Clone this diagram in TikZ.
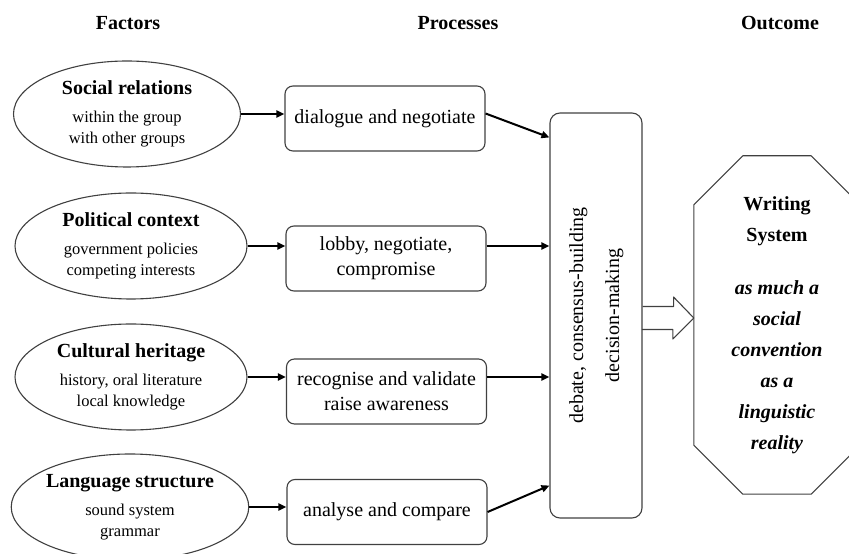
\documentclass[tikz,border=0pt]{standalone}
\usepackage{fontspec}
\setmainfont{Liberation Serif}
\usetikzlibrary{arrows.meta,calc,shapes.geometric}
\definecolor{edge}{rgb}{0.25,0.25,0.25}
\newcommand\ftitle[1]{{\fontsize{20}{24}\selectfont\bfseries #1}}

\begin{document}
\begin{tikzpicture}[x=1pt,y=1pt,line join=round,
    factor/.style={ellipse,draw=edge,line width=1.1pt,minimum width=230pt,minimum height=106pt,inner sep=0pt,align=center,font=\fontsize{16.5}{21}\selectfont},
    process/.style={rectangle,rounded corners=8pt,draw=edge,line width=1.1pt,minimum width=200pt,minimum height=65pt,align=center,font=\fontsize{20}{25}\selectfont},
    head/.style={font=\fontsize{20}{24}\selectfont\bfseries},
    link/.style={-{Triangle[length=8pt,width=7pt]},line width=2pt}]

    \useasboundingbox (0,0) rectangle (849,554);

    % column headers
    \node[head] (hfac) at (128,531) {Factors};
    \node[head] (hpro) at (458,531) {Processes};
    \node[head] (hout) at (780,531) {Outcome};

    % factors
    \node[factor,minimum width=227pt] (soc) at (127,440) {\ftitle{Social relations}\\[7pt] within the group\\ with other groups};
    \node[factor,minimum width=232pt] (pol) at (131,308) {\ftitle{Political context}\\[7pt] government policies\\ competing interests};
    \node[factor,minimum width=232pt] (cul) at (131,177) {\ftitle{Cultural heritage}\\[7pt] history, oral literature\\ local knowledge};
    \node[factor] (lan) at (130,47) {\ftitle{Language structure}\\[7pt] sound system\\ grammar};

    % processes
    \node[process] (dia) at (385,435.5) {dialogue and negotiate};
    \node[process] (lob) at (386,295.5) {lobby, negotiate,\\ compromise};
    \node[process] (rec) at (386.5,162.5) {recognise and validate\\ raise awareness};
    \node[process] (ana) at (387,42) {analyse and compare};

    % debate box
    \node[draw=edge,line width=1.1pt,rounded corners=10pt,minimum width=92pt,minimum height=405pt,inner sep=0pt,font=\fontsize{20}{25}\selectfont] (deb) at (596,238.5)
        {\rotatebox{90}{\begin{tabular}{@{}c@{}}debate, consensus-building\\[11pt] decision-making\end{tabular}}};

    % outcome
    \node[minimum width=166pt,minimum height=338pt,align=center,font=\fontsize{20}{31}\selectfont\bfseries] (out) at (777,229)
        {Writing\\ System\\[22pt] \textit{as much a}\\ \textit{social}\\ \textit{convention}\\ \textit{as a}\\ \textit{linguistic}\\ \textit{reality}};
    \draw[edge,line width=1.1pt] ([yshift=-49pt]out.north west) -- ([xshift=49pt]out.north west) -- ([xshift=-49pt]out.north east) -- ([yshift=-49pt]out.north east)
        -- ([yshift=49pt]out.south east) -- ([xshift=-49pt]out.south east) -- ([xshift=49pt]out.south west) -- ([yshift=49pt]out.south west) -- cycle;

    % arrows
    \draw[link] (soc.east) -- (soc.east -| dia.west);
    \draw[link] (pol.east) -- (pol.east -| lob.west);
    \draw[link] (cul.east) -- (cul.east -| rec.west);
    \draw[link] (lan.east) -- (lan.east -| ana.west);

    \draw[link] ([yshift=5pt]dia.east) -- ([yshift=-25pt]deb.north west);
    \draw[link] (pol.east -| lob.east) -- (pol.east -| deb.west);
    \draw[link] (cul.east -| rec.east) -- (cul.east -| deb.west);
    \draw[link] (ana.east) -- ([yshift=33pt]deb.south west);

    \draw[edge,line width=1.1pt] ($(deb.east)+(0,9)$) -- ++(31,0) -- ++(0,9.5) -- ($(out.west)+(0,7)$) -- ++(-21,-21) -- ++(0,9.5) -- ++(-31,0);
\end{tikzpicture}
\end{document}
